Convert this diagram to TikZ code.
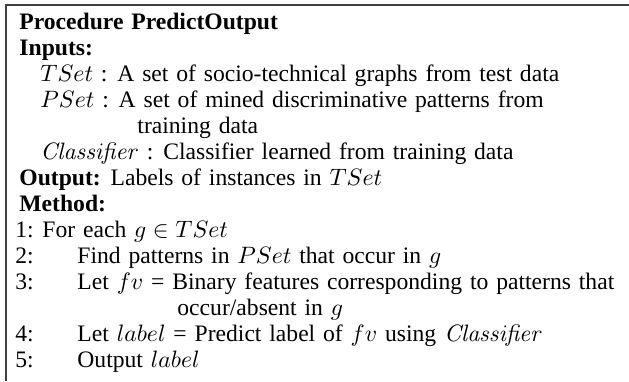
\documentclass[tikz,border=0pt]{standalone}
\usepackage[no-math]{fontspec}
\setmainfont{Liberation Serif}[WordSpace=1.33]
\usetikzlibrary{positioning,calc}

\tikzset{
  txt/.style={anchor=base west, inner sep=0pt, font=\fontsize{10.9}{12}\selectfont},
  frame/.style={draw=black!75, line width=0.6pt}
}

\begin{document}
\begin{tikzpicture}[x=0.4615pt, y=-0.4615pt]

\useasboundingbox (0,0) rectangle (629,381);

% frame (only top and left edge are in view)
\coordinate (FTL) at (6,5);
\draw[frame] (FTL |- 0,381) -- (FTL) -- (FTL -| 629,0);

% header
\node[txt] (proc) at (19,29) {\textbf{Procedure PredictOutput}};
\node[txt] (inp)  at (19,55) {\textbf{Inputs:}};

\node[txt] (tset) at (40,81)
  {$TSet$ : A set of socio-technical graphs from test data};
\node[txt] (pset) at (40,107)
  {$PSet$ : A set of mined discriminative patterns from};
\node[txt] (pset2) at (137,133) {training data};
\node[txt] (clf) at (40,159)
  {$\mathit{Classifier}$ : Classifier learned from training data};

\node[txt] (out) at (19,185) {\textbf{Output:} Labels of instances in $TSet$};
\node[txt] (meth) at (19,211) {\textbf{Method:}};

% numbered steps
\foreach \n/\y in {1/237, 2/263, 3/289, 4/341, 5/367}
  \node[txt] (num\n) at (15,\y) {\n:};

\node[txt] (s1) at (42,237) {For each $g \in TSet$};
\node[txt] (s2) at (77,263) {Find patterns in $PSet$ that occur in $g$};
\node[txt] (s3) at (77,289)
  {Let $fv$ = Binary features corresponding to patterns that};
\node[txt] (s3b) at (177,315) {occur/absent in $g$};
\node[txt] (s4) at (77,341)
  {Let $label$ = Predict label of $fv$ using $\mathit{Classifier}$};
\node[txt] (s5) at (77,367) {Output $label$};

\end{tikzpicture}
\end{document}
